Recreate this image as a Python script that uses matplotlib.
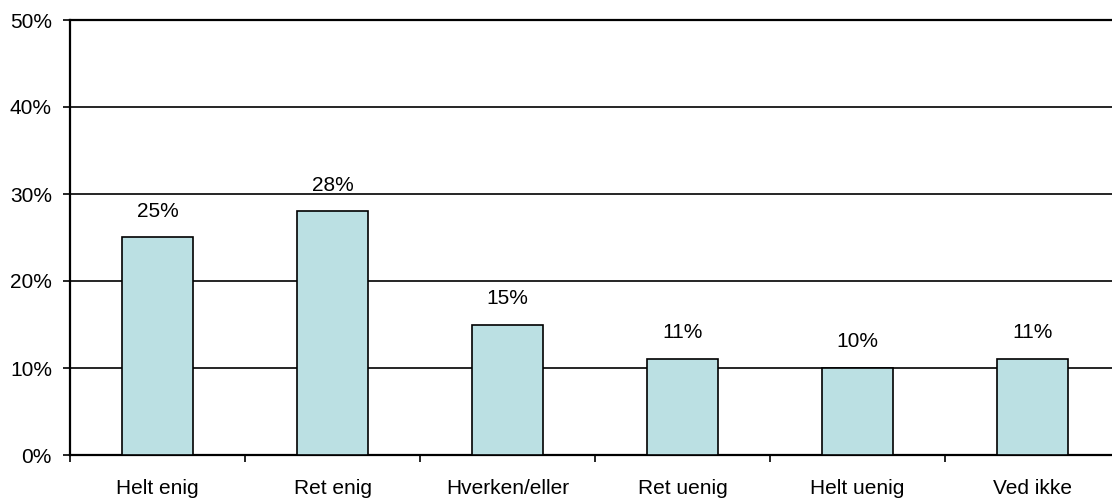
import matplotlib.pyplot as plt
from matplotlib.ticker import FuncFormatter

categories = ["Helt enig", "Ret enig", "Hverken/eller", "Ret uenig", "Helt uenig", "Ved ikke"]
values = [25, 28, 15, 11, 10, 11]
bar_color = "#BBE0E3"

plt.rcParams["font.family"] = ["Liberation Sans", "DejaVu Sans"]

fig = plt.figure(figsize=(11.12, 4.98), dpi=100)
# axes runs a little past the right figure edge, as in the original
ax = fig.add_axes([70 / 1112, 43 / 498, 1050 / 1112, 435 / 498])

x = list(range(len(categories)))
ax.bar(x, values, width=0.41, color=bar_color, edgecolor="black", linewidth=1.2, zorder=3)

for xi, v in zip(x, values):
    ax.annotate(f"{v}%", (xi, v), xytext=(0, 19), textcoords="offset points",
                ha="center", va="center", fontsize=15)

ax.set_xlim(-0.5, len(categories) - 0.5)
ax.set_ylim(0, 50)
ax.set_yticks(range(0, 51, 10))
ax.yaxis.set_major_formatter(FuncFormatter(lambda v, _: f"{v:.0f}%"))
ax.yaxis.grid(True, color="black", linewidth=1.2, zorder=1)

ax.set_xticks([i + 0.5 for i in x[:-1]] + [-0.5])
ax.set_xticklabels([])
ax.set_xticks(x, minor=True)
ax.set_xticklabels(categories, minor=True)
ax.tick_params(axis="x", which="minor", length=0, pad=17, labelsize=15)
ax.tick_params(axis="x", which="major", length=5, width=1.2, direction="out")
ax.tick_params(axis="y", length=5, width=1.2, pad=8, labelsize=15)

ax.spines["right"].set_visible(False)
for side in ("left", "bottom", "top"):
    ax.spines[side].set_linewidth(1.6)

fig.savefig("out.png", dpi=100)
plt.close(fig)
